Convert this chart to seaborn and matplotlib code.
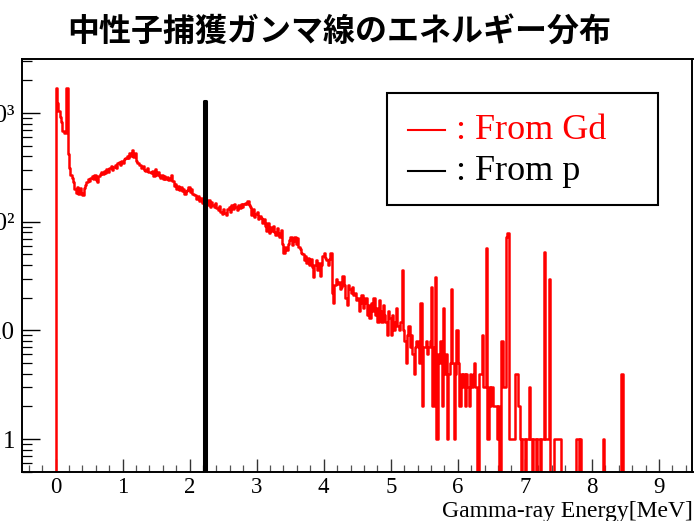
import numpy as np
import pandas as pd
import matplotlib
matplotlib.use("Agg")
import matplotlib.pyplot as plt
from matplotlib.ticker import (MultipleLocator, FixedLocator, FixedFormatter,
                               LogLocator, NullFormatter)
from matplotlib.patches import Rectangle
from matplotlib.lines import Line2D
import seaborn as sns

# ---------------------------------------------------------------- data
title_text = "中性子捕獲ガンマ線のエネルギー分布"
x_label = "Gamma-ray Energy[MeV]"
legend_labels = [": From Gd", ": From p"]
series_colors = ["#ff0000", "#000000"]

bin_width = 0.02  # MeV per histogram bin

# Gd capture gamma counts, one value per 0.02 MeV bin starting at 0 MeV
gd_counts = [
    1700, 1240, 1050, 920, 830, 680, 650, 660, 1700, 420, 310, 270, 255, 230, 200, 185, 210, 180, 205, 185, 175, 205, 220, 230, 250,
    235, 255, 262, 245, 270, 240, 230, 265, 275, 290, 275, 295, 280, 305, 290, 315, 325, 300, 320, 335, 315, 345, 355, 335, 365,
    350, 375, 385, 405, 385, 425, 405, 460, 395, 425, 365, 350, 335, 330, 310, 325, 300, 295, 315, 290, 290, 280, 295, 265, 305,
    270, 285, 262, 255, 270, 250, 262, 245, 258, 240, 252, 268, 235, 212, 222, 200, 212, 196, 207, 190, 202, 182, 192, 196, 208,
    188, 202, 182, 178, 176, 162, 172, 155, 164, 148, 157, 162, 148, 143, 157, 138, 152, 143, 136, 150, 133, 128, 140, 122, 118,
    132, 120, 116, 130, 137, 123, 142, 130, 145, 136, 128, 142, 133, 145, 138, 147, 150, 146, 154, 144, 138, 116, 130, 110, 117,
    122, 106, 114, 108, 98, 107, 92, 83, 97, 78, 90, 82, 92, 80, 76, 88, 78, 73, 84, 62, 52, 58, 55, 62, 68,
    72, 61, 67, 73, 63, 71, 59, 56, 52, 50, 44, 48, 42, 46, 40, 45, 38, 31, 40, 44, 36, 42, 32, 40, 48,
    52, 46, 44, 40, 45, 52, 22, 18, 26, 30, 27, 28, 24, 25, 32, 26, 20, 17, 26, 24, 22, 25, 21, 22, 19,
    20, 15, 18, 21, 16, 18, 20, 14, 17, 13, 18, 15, 20, 14, 16, 12, 19, 15, 12, 17, 14, 12, 9, 15, 13,
    9, 14, 10, 12, 16, 11, 10, 12, 36, 10, 8, 5, 9, 11, 7, 9, 6, 4, 7, 8, 7, 5, 18, 2, 7,
    7, 8, 6, 7, 8, 25, 2, 7, 31, 1, 6, 5, 8, 2, 16, 4, 6, 1, 4, 5, 24, 5, 1, 4, 10,
    5, 2, 4, 3, 4, 2, 4, 3, 2, 4, 3, 4, 5, 3, 0, 0, 4, 4, 9, 3, 3, 57, 1, 3, 2,
    3, 2, 2, 2, 1, 2, 0, 8, 8, 3, 3, 73, 78, 1, 1, 1, 1, 1, 4, 4, 2, 1, 0, 1, 1,
    0, 1, 1, 3, 1, 0, 1, 1, 0, 1, 1, 0, 1, 1, 53, 1, 1, 1, 30, 0, 0, 0, 1, 1, 1,
    1, 1, 0, 0, 0, 0, 0, 0, 0, 0, 0, 0, 0, 1, 1, 0, 1, 0, 0, 0, 0, 0, 0, 0, 0,
    0, 0, 0, 0, 0, 0, 0, 0, 1, 0, 0, 0, 0, 0, 0, 0, 0, 0, 0, 0, 0, 0, 4, 0, 0,
]

# hydrogen capture line (2.223 MeV), lower bin edge and counts
p_bin_low = [2.22]
p_counts = [1300]

x_ticks = [0, 1, 2, 3, 4, 5, 6, 7, 8, 9]
y_ticks = [1, 10, 100, 1000]
y_tick_labels = ["1", "10", "10²", "10³"]

# ---------------------------------------------------------------- frames
gd_df = pd.DataFrame({
    "energy": np.arange(len(gd_counts)) * bin_width + bin_width / 2,
    "counts": gd_counts,
})
p_df = pd.DataFrame({
    "energy": np.array(p_bin_low) + bin_width / 2,
    "counts": p_counts,
})
edges = [float(e) for e in np.round(np.linspace(-0.52, 9.52, 503), 4)]

# ---------------------------------------------------------------- figure
plt.rcParams["font.family"] = ["Liberation Serif", "DejaVu Serif"]

W, H = 695, 521
fig = plt.figure(figsize=(W / 100, H / 100), dpi=100)
fig.patch.set_facecolor("white")

ax_left, ax_right, ax_top, ax_bottom = 22, 692.5, 59.3, 471.7
ax = fig.add_axes([ax_left / W, (H - ax_bottom) / H,
                   (ax_right - ax_left) / W, (ax_bottom - ax_top) / H])
ax.set_yscale("log")

sns.histplot(data=gd_df, x="energy", weights="counts", bins=edges,
             element="step", fill=False, color=series_colors[0],
             linewidth=1.8, ax=ax)
sns.histplot(data=p_df, x="energy", weights="counts", bins=edges,
             element="step", fill=False, color=series_colors[1],
             linewidth=2.2, ax=ax)

ax.set_xlim(-0.5, 9.5)
ax.set_ylim(0.5, 3130)

# axis frame and ticks
for sp in ax.spines.values():
    sp.set_color("black")
    sp.set_linewidth(1.4)

ax.xaxis.set_major_locator(FixedLocator(x_ticks))
ax.xaxis.set_major_formatter(FixedFormatter([str(t) for t in x_ticks]))
ax.xaxis.set_minor_locator(MultipleLocator(0.2))
ax.yaxis.set_major_locator(FixedLocator(y_ticks))
ax.yaxis.set_major_formatter(FixedFormatter(y_tick_labels))
ax.yaxis.set_minor_locator(LogLocator(base=10, subs=np.arange(2, 10), numticks=20))
ax.yaxis.set_minor_formatter(NullFormatter())

ax.tick_params(axis="x", which="major", direction="in", length=9.5, width=1.0,
               labelsize=16.5, pad=4, top=False, color="#333333")
ax.tick_params(axis="x", which="minor", direction="in", length=5, width=0.9,
               top=False, color="#555555")
ax.tick_params(axis="y", which="major", direction="in", length=13, width=1.0,
               labelsize=18, pad=5, right=False)
ax.tick_params(axis="y", which="minor", direction="in", length=7, width=0.9,
               right=False)

ax.set_ylabel("")
ax.set_xlabel(x_label, fontsize=17, loc="right")
ax.xaxis.set_label_coords(1.0, -0.109)
ax.xaxis.label.set_horizontalalignment("right")
ax.xaxis.label.set_verticalalignment("baseline")

# title
fig.text(339 / W, 1 - 33 / H, title_text, fontsize=23, fontweight="bold",
         family=["Noto Sans CJK JP", "DejaVu Sans"], ha="center", va="center")

# legend box
box = Rectangle((387 / W, 1 - 205 / H), 271 / W, 112.3 / H,
                transform=fig.transFigure, facecolor="white",
                edgecolor="black", linewidth=1.5, zorder=5)
fig.add_artist(box)
for i, (lab, col) in enumerate(zip(legend_labels, series_colors)):
    y_line = 130 + 41 * i
    y_base = 139 + 41 * i
    fig.add_artist(Line2D([408 / W, 445 / W], [1 - y_line / H] * 2,
                          transform=fig.transFigure, color=col,
                          linewidth=1.5, zorder=6))
    fig.text(456 / W, 1 - y_base / H, lab, color=col, fontsize=26,
             ha="left", va="baseline", zorder=6)

fig.savefig("out.png", dpi=100)
